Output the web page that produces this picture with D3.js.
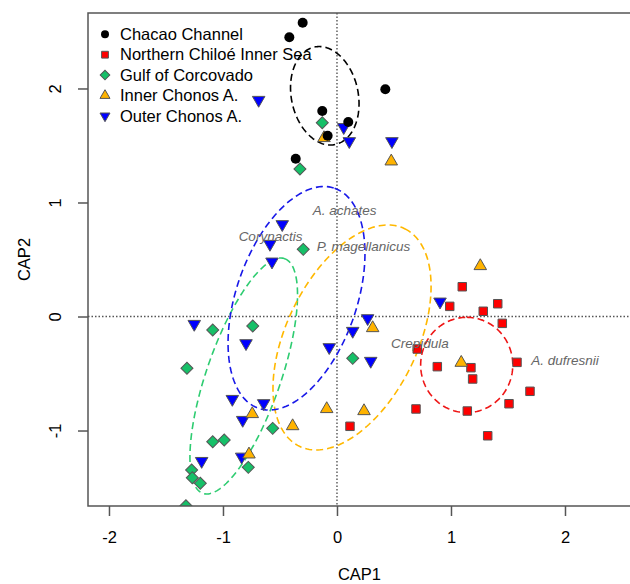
<!DOCTYPE html>
<html>
<head>
<meta charset="utf-8">
<script src="https://cdn.jsdelivr.net/npm/d3@7"></script>
<style>
  body { margin: 0; background: #fff; }
  text { font-family: "Liberation Sans", Arial, sans-serif; }
</style>
</head>
<body>
<div id="chart"></div>
<script>
const width = 630;
const height = 584;

// Groups (legend order)
const groups = ["Chacao Channel", "Northern Chiloé Inner Sea", "Gulf of Corcovado", "Inner Chonos A.", "Outer Chonos A."];
const groupColors = ["#000000", "#FF0000", "#16C068", "#FFB300", "#0000FF"];
const ellipseColors = ["#000000", "#EE1515", "#2ECC71", "#FFB800", "#1818E8"];
const groupShapes = ["circle", "square", "diamond", "triangleUp", "triangleDown"];

// CAP scores per group [CAP1, CAP2]
const chacao = [[-0.301, 2.577], [-0.418, 2.449], [0.424, 1.993], [-0.129, 1.803], [0.099, 1.706], [-0.082, 1.586], [-0.362, 1.384]];
const northernChiloe = [[1.099, 0.261], [0.989, 0.089], [1.283, 0.046], [1.410, 0.112], [1.450, -0.060], [0.704, -0.285], [0.880, -0.440], [1.175, -0.449], [1.190, -0.548], [1.579, -0.402], [1.693, -0.656], [1.509, -0.765], [1.143, -0.829], [0.693, -0.811], [0.114, -0.963], [1.322, -1.046]];
const gulfCorcovado = [[-0.129, 1.700], [-0.325, 1.294], [-0.296, 0.589], [-1.090, -0.118], [-0.739, -0.083], [-1.316, -0.454], [0.138, -0.367], [-0.564, -0.981], [-1.090, -1.098], [-0.989, -1.083], [-1.275, -1.346], [-1.269, -1.414], [-1.199, -1.463], [-0.778, -1.323], [-1.325, -1.660]];
const innerChonos = [[-0.114, 1.566], [0.476, 1.361], [1.257, 0.443], [0.313, -0.101], [1.090, -0.405], [-0.743, -0.855], [-0.389, -0.961], [-0.090, -0.811], [0.237, -0.829], [-0.772, -1.209]];
const outerChonos = [[-0.687, 1.899], [0.059, 1.660], [0.108, 1.537], [0.482, 1.537], [-0.480, 0.809], [-0.588, 0.636], [-0.570, 0.481], [-1.252, -0.066], [-0.798, -0.235], [-0.068, -0.270], [0.138, -0.127], [0.269, -0.016], [0.296, -0.390], [0.904, 0.130], [-0.918, -0.724], [-0.643, -0.761], [-0.827, -0.908], [-0.836, -1.230], [-1.187, -1.268]];
const groupPoints = [chacao, northernChiloe, gulfCorcovado, innerChonos, outerChonos];

// Group ellipses (centre, semi-axes, tilt from vertical in degrees)
const ellipseCx = [-0.107, 1.138, -0.818, 0.132, -0.355];
const ellipseCy = [1.936, -0.425, -0.522, -0.184, 0.160];
const ellipseA = [0.437, 0.418, 1.090, 1.060, 1.021];
const ellipseB = [0.293, 0.404, 0.325, 0.575, 0.528];
const ellipseTilt = [-11.9, 0, 19.2, 25.8, 19.1];

// Species labels
const species = ["A. achates", "Corynactis", "P. magellanicus", "Crepidula", "A. dufresnii"];
const speciesX = [0.068, -0.583, 0.232, 0.728, 2.0];
const speciesY = [0.928, 0.706, 0.614, -0.235, -0.384];

const xTicks = [-2, -1, 0, 1, 2];
const yTicks = [-1, 0, 1, 2];

const plot = { left: 88, right: 631, top: 13, bottom: 506 };

const x = d3.scaleLinear().domain([-2.184, 2.579]).range([plot.left, plot.right]);
const y = d3.scaleLinear().domain([-1.662, 2.662]).range([plot.bottom, plot.top]);

const svg = d3.select("#chart").append("svg")
	.attr("width", width)
	.attr("height", height);

svg.append("clipPath").attr("id", "clip")
	.append("rect")
	.attr("x", plot.left).attr("y", plot.top)
	.attr("width", plot.right - plot.left).attr("height", plot.bottom - plot.top);

const inner = svg.append("g").attr("clip-path", "url(#clip)");

// zero lines
inner.append("line")
	.attr("x1", x(0)).attr("x2", x(0))
	.attr("y1", plot.top).attr("y2", plot.bottom)
	.attr("stroke", "#555").attr("stroke-width", 1.4).attr("stroke-dasharray", "1.5,2");
inner.append("line")
	.attr("x1", plot.left).attr("x2", plot.right)
	.attr("y1", y(0)).attr("y2", y(0))
	.attr("stroke", "#555").attr("stroke-width", 1.4).attr("stroke-dasharray", "1.5,2");

// symbol path helper
function symbolPath(shape, k) {
	if (shape === "circle") return d3.symbol(d3.symbolCircle, Math.PI * 25 * k * k)();
	if (shape === "square") return d3.symbol(d3.symbolSquare, 72 * k * k)();
	if (shape === "diamond") return d3.symbol(d3.symbolSquare, 72 * k * k)();
	return d3.symbol(d3.symbolTriangle, 68 * k * k)();
}
function symbolRotate(shape) {
	if (shape === "diamond") return 45;
	if (shape === "triangleDown") return 180;
	return 0;
}

// ellipses
const line = d3.line().x(d => x(d[0])).y(d => y(d[1]));
groups.forEach((g, i) => {
	const th = ellipseTilt[i] * Math.PI / 180;
	const pts = d3.range(0, 201).map(j => {
		const t = j / 200 * 2 * Math.PI;
		const u = ellipseA[i] * Math.cos(t), v = ellipseB[i] * Math.sin(t);
		return [ellipseCx[i] + u * Math.sin(th) + v * Math.cos(th),
			ellipseCy[i] + u * Math.cos(th) - v * Math.sin(th)];
	});
	inner.append("path")
		.attr("d", line(pts))
		.attr("fill", "none")
		.attr("stroke", ellipseColors[i])
		.attr("stroke-width", 1.6)
		.attr("stroke-dasharray", "7,4");
});

// points
const drawOrder = [1, 2, 4, 3, 0];
drawOrder.forEach(i => {
	inner.selectAll(null)
		.data(groupPoints[i])
		.enter()
		.append("path")
		.attr("d", symbolPath(groupShapes[i], 1))
		.attr("transform", d => "translate(" + x(d[0]) + "," + y(d[1]) + ")rotate(" + symbolRotate(groupShapes[i]) + ")")
		.attr("fill", groupColors[i])
		.attr("stroke", i === 0 ? "none" : "#555")
		.attr("stroke-width", 1);
});

// species labels
inner.selectAll(null)
	.data(species)
	.enter()
	.append("text")
	.attr("x", (d, i) => x(speciesX[i]))
	.attr("y", (d, i) => y(speciesY[i]))
	.attr("dy", "0.35em")
	.attr("text-anchor", "middle")
	.attr("font-style", "italic")
	.attr("font-size", "13.5px")
	.attr("fill", "#666")
	.text(d => d);

// box (right side falls outside the picture)
svg.append("path")
	.attr("d", "M" + plot.right + "," + plot.top + "H" + plot.left + "V" + plot.bottom + "H" + plot.right)
	.attr("fill", "none")
	.attr("stroke", "#555")
	.attr("stroke-width", 1.5);

// x axis
const xAxis = svg.append("g")
	.attr("transform", "translate(0," + plot.bottom + ")")
	.call(d3.axisBottom(x).tickValues(xTicks).tickSize(10).tickPadding(15).tickFormat(d => String(d)));
xAxis.select(".domain").remove();
xAxis.selectAll("line").attr("stroke", "#555").attr("stroke-width", 1.5);
xAxis.selectAll("text").attr("font-size", "16.5px").attr("fill", "#000")
	.attr("font-family", "'Liberation Sans', Arial, sans-serif");

// y axis
const yAxis = svg.append("g")
	.attr("transform", "translate(" + plot.left + ",0)")
	.call(d3.axisLeft(y).tickValues(yTicks).tickSize(10).tickFormat(d => String(d)));
yAxis.select(".domain").remove();
yAxis.selectAll("line").attr("stroke", "#555").attr("stroke-width", 1.5);
yAxis.selectAll("text")
	.attr("font-size", "16.5px").attr("fill", "#000")
	.attr("font-family", "'Liberation Sans', Arial, sans-serif")
	.attr("text-anchor", "middle")
	.attr("x", 0).attr("y", -27).attr("dy", 0)
	.attr("transform", "rotate(-90)");

// axis titles
svg.append("text")
	.attr("x", (plot.left + plot.right) / 2)
	.attr("y", 580)
	.attr("text-anchor", "middle")
	.attr("font-size", "16.5px")
	.text("CAP1");
svg.append("text")
	.attr("transform", "translate(30," + (plot.top + plot.bottom) / 2 + ")rotate(-90)")
	.attr("text-anchor", "middle")
	.attr("font-size", "16.5px")
	.text("CAP2");

// legend
const legend = svg.append("g");
groups.forEach((g, i) => {
	const ly = 34.3 + i * 20.4;
	legend.append("path")
		.attr("d", symbolPath(groupShapes[i], 0.8))
		.attr("transform", "translate(105," + ly + ")rotate(" + symbolRotate(groupShapes[i]) + ")")
		.attr("fill", groupColors[i])
		.attr("stroke", i === 0 ? "none" : "#555")
		.attr("stroke-width", 1);
	legend.append("text")
		.attr("x", 120)
		.attr("y", ly)
		.attr("dy", "0.35em")
		.attr("font-size", "16.5px")
		.text(g);
});
</script>
</body>
</html>
